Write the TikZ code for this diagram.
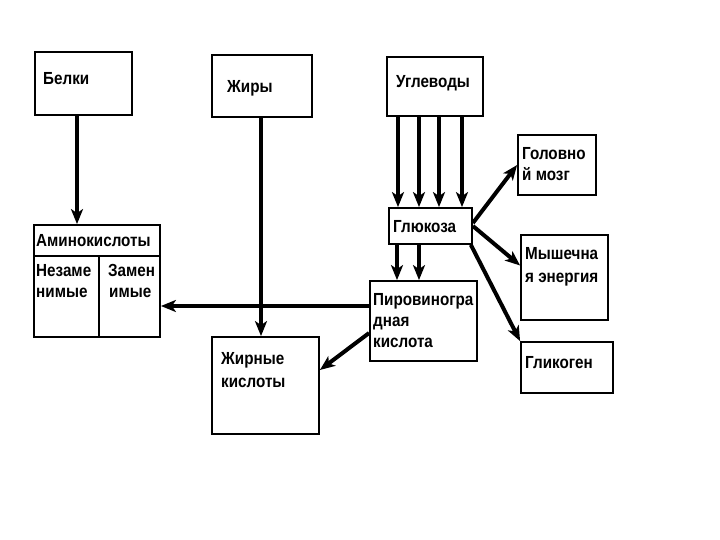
\documentclass[tikz,border=0pt]{standalone}
\usepackage{fontspec}
\setmainfont{Liberation Sans}
\newfontfamily\labfont[FakeStretch=0.87]{Liberation Sans}
\usetikzlibrary{arrows.meta}
\begin{document}
\begin{tikzpicture}[x=1pt,y=-1pt,
  box/.style={draw=black,line width=1.8pt,rectangle,inner sep=0pt,fill=white},
  lbl/.style={anchor=base west,inner sep=0pt,font=\labfont\fontsize{17.5}{20}\selectfont\bfseries},
  arr/.style={line width=4pt,-{Stealth[length=15pt,width=12pt,inset=4pt]}},
  ln/.style={line width=4pt}]
\useasboundingbox (0,0) rectangle (720,540);
% boxes
\node[box,minimum width=97pt,minimum height=63pt] (belki) at (83.5,83.5) {};
\node[box,minimum width=100pt,minimum height=62pt] (zhiry) at (262,86) {};
\node[box,minimum width=96pt,minimum height=59pt] (ugl) at (435,86.5) {};
\node[box,minimum width=83pt,minimum height=36pt] (glu) at (430.5,226) {};
\node[box,minimum width=78pt,minimum height=60pt] (golov) at (557,165) {};
\node[box,minimum width=87pt,minimum height=85pt] (mysh) at (564.5,277.5) {};
\node[box,minimum width=92pt,minimum height=51pt] (glik) at (567,367.5) {};
\node[box,minimum width=107pt,minimum height=80pt] (piro) at (423.5,321) {};
\node[box,minimum width=107pt,minimum height=97pt] (zhk) at (265.5,385.5) {};
\node[box,minimum width=126pt,minimum height=112pt] (amino) at (97,281) {};
\coordinate (sepL) at (34,256);
\coordinate (sepR) at (160,256);
\coordinate (divT) at (99,256);
\draw[line width=1.8pt] (amino.west |- sepL) -- (amino.east |- sepR);
\draw[line width=1.8pt] (divT) -- (divT |- amino.south);
% labels
\node[lbl] (tbelki) at (43,85) {Белки};
\node[lbl] (tzhiry) at (227,93) {Жиры};
\node[lbl] (tugl) at (396,88) {Углеводы};
\node[lbl] (tglu) at (393,233) {Глюкоза};
\node[lbl] (tgol1) at (522,160) {Головно};
\node[lbl] (tgol2) at (522,181) {й мозг};
\node[lbl] (tmy1) at (525,259) {Мышечна};
\node[lbl] (tmy2) at (525,282) {я энергия};
\node[lbl] (tglik) at (525,368) {Гликоген};
\node[lbl] (tam) at (36,247) {Аминокислоты};
\node[lbl] (tne1) at (36,276) {Незаме};
\node[lbl] (tne2) at (36,297) {нимые};
\node[lbl] (tza1) at (108,276) {Замен};
\node[lbl] (tza2) at (109,297) {имые};
\node[lbl] (tp1) at (373,305) {Пировиногра};
\node[lbl] (tp2) at (373,326) {дная};
\node[lbl] (tp3) at (373,347) {кислота};
\node[lbl] (tzk1) at (221,364) {Жирные};
\node[lbl] (tzk2) at (221,387) {кислоты};
% connectors
\draw[arr] (77,0 |- belki.south) -- (77,0 |- amino.north);
\draw[arr] (piro.west |- 0,306) -- (amino.east |- 0,306);
\draw[arr] (261,0 |- zhiry.south) -- (261,0 |- zhk.north);
\foreach \xx in {398,419,439,462} {\draw[arr] (\xx,0 |- ugl.south) -- (\xx,0 |- glu.north);}
\foreach \xx in {397,419} {\draw[arr] (\xx,0 |- glu.south) -- (\xx,0 |- piro.north);}
\draw[arr] ([yshift=3pt]glu.east) -- (golov.west);
\draw[arr] (glu.east) -- ([yshift=12pt]mysh.west);
\draw[arr] ([xshift=-2pt]glu.south east) -- (glik.north west);
\draw[arr] (piro.west |- 0,333) -- (zhk.east |- 0,370);
\end{tikzpicture}
\end{document}
